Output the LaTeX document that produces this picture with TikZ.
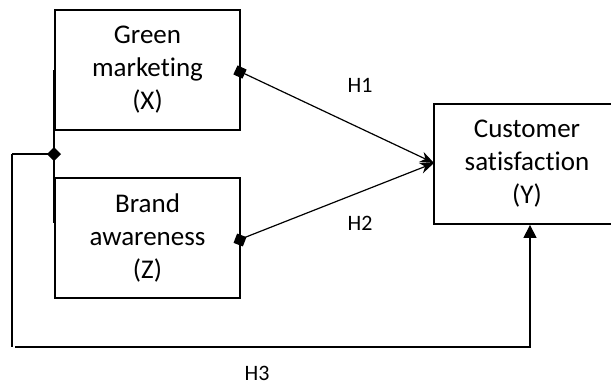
\documentclass[tikz,border=0pt]{standalone}
\usepackage{fontspec}
\setmainfont{Carlito}[Ligatures=NoCommon]
\usetikzlibrary{arrows.meta}
\begin{document}
\begin{tikzpicture}[x=1pt,y=-1pt,
  var/.style={draw,line width=1.8pt,minimum width=185pt,minimum height=120pt,
    align=center,inner sep=0pt,font=\fontsize{27}{33}\selectfont},
  lbl/.style={font=\fontsize{22}{24}\selectfont,inner sep=0pt},
  conn/.style={line width=1.2pt},
]
\clip (0,0) rectangle (611,386);
\node[var] (x) at (147.5,70) {Green\\marketing\\(X)};
\node[var] (z) at (147.5,238) {Brand\\awareness\\(Z)};
\node[var,minimum width=186pt] (y) at (527,164) {Customer\\satisfaction\\(Y)};
\coordinate (tipxy) at (434,163);
\coordinate (j) at (54,154);
\coordinate (b1) at (54,70);
\coordinate (b2) at (54,223);
\coordinate (l1) at (12,154);
\coordinate (l2) at (12,347);
\coordinate (r2) at (530,347);
% bracket
\draw[line width=2.6pt] (b1) -- (b2);
% H1, H2
\draw[conn,-{Stealth[length=14pt,width=11pt]}] (x.east |- 0,72) -- (tipxy);
\draw[conn,-{Stealth[length=14pt,width=11pt]}] (z.east |- 0,239) -- (tipxy);
\fill[rotate around={-25:(240,72)}] (240,72) +(-5,-5) rectangle +(5,5);
\fill[rotate around={-21:(240,240)}] (240,240) +(-5,-5) rectangle +(5,5);
% H3
\draw[conn] (l1) -- (j);
\fill (j) +(-7,0) -- +(0,-7) -- +(7,0) -- +(0,7) -- cycle;
\draw[conn] (l1) -- (l2);
\draw[conn,-{Triangle[length=13pt,width=13pt]}] (15,347) -- (r2) -- (y.south -| r2);
\node[lbl] (h1) at (360,85) {H1};
\node[lbl] (h2) at (360,223) {H2};
\node[lbl] (h3) at (257,373) {H3};
\end{tikzpicture}
\end{document}
